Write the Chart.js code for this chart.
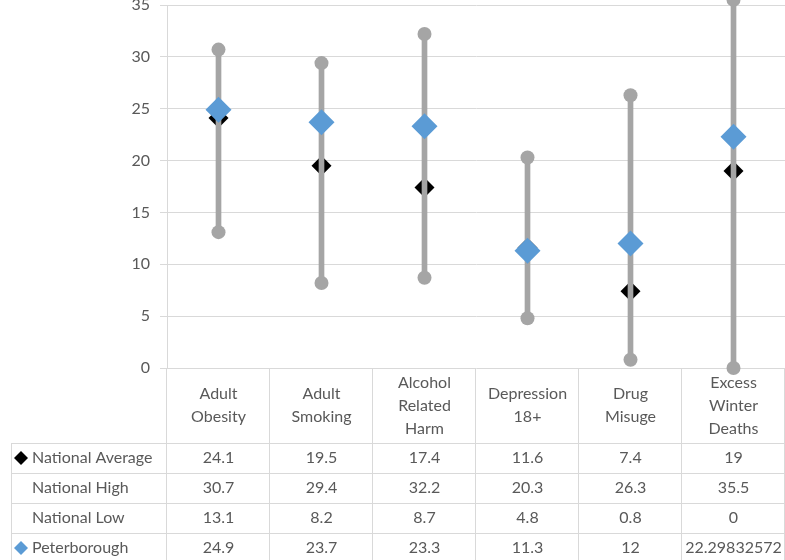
<!DOCTYPE html>
<html>
<head>
<meta charset="utf-8">
<script src="https://cdn.jsdelivr.net/npm/chart.js@4"></script>
<style>
html, body { margin: 0; padding: 0; background: #fff; }
</style>
</head>
<body>
<canvas id="HealthChart" width="785" height="560"></canvas>
<script>
var categories = [["Adult", "Obesity"], ["Adult", "Smoking"], ["Alcohol", "Related", "Harm"], ["Depression", "18+"], ["Drug", "Misuge"], ["Excess", "Winter", "Deaths"]];
var nationalAverage = [24.1, 19.5, 17.4, 11.6, 7.4, 19];
var nationalHigh = [30.7, 29.4, 32.2, 20.3, 26.3, 35.5];
var nationalLow = [13.1, 8.2, 8.7, 4.8, 0.8, 0];
var peterborough = [24.9, 23.7, 23.3, 11.3, 12, 22.29832572];
var yMin = 0, yMax = 35, yStep = 5;

var GREY = '#a5a5a5';
var BLUE = '#5b9bd5';
var TEXT = '#595959';
var GRID = '#d9d9d9';
var FONT = "Lato, 'Open Sans', sans-serif";

var tableRows = [
    { name: "National Average", values: nationalAverage, marker: '#000000' },
    { name: "National High", values: nationalHigh, marker: null },
    { name: "National Low", values: nationalLow, marker: null },
    { name: "Peterborough", values: peterborough, marker: BLUE }
];

window.onload = function () {
    var ctx = document.getElementById("HealthChart").getContext('2d');
    this.HealthChart = createChart(ctx);
};

function rangeData() {
    return nationalLow.map(function (low, i) { return [low, nationalHigh[i]]; });
}

function drawDiamond(ctx, x, y, r, color) {
    ctx.beginPath();
    ctx.moveTo(x - r, y);
    ctx.lineTo(x, y - r);
    ctx.lineTo(x + r, y);
    ctx.lineTo(x, y + r);
    ctx.closePath();
    ctx.fillStyle = color;
    ctx.fill();
}

// data table under the plot, columns follow the x scale
var tablePlugin = {
    id: 'dataTable',
    afterDraw: function (chart) {
        var ctx = chart.ctx;
        var xs = chart.scales.x;
        var area = chart.chartArea;
        var colW = xs.width / categories.length;
        var headH = 75, rowH = 30, tableLeft = 11;
        var top = area.bottom;
        var bottom = chart.height;
        ctx.save();
        ctx.strokeStyle = GRID;
        ctx.lineWidth = 1;
        ctx.beginPath();
        for (var i = 0; i <= categories.length; i++) {
            var px = Math.round(xs.left + i * colW) - 0.5;
            ctx.moveTo(px, top);
            ctx.lineTo(px, bottom);
        }
        ctx.moveTo(tableLeft + 0.5, top + headH);
        ctx.lineTo(tableLeft + 0.5, bottom);
        for (var r = 0; r <= tableRows.length; r++) {
            var py = Math.round(top + headH + r * rowH) + 0.5;
            ctx.moveTo(tableLeft, py);
            ctx.lineTo(xs.right, py);
        }
        ctx.stroke();

        ctx.fillStyle = TEXT;
        ctx.font = "16px " + FONT;
        ctx.textAlign = 'center';
        ctx.textBaseline = 'middle';
        categories.forEach(function (lines, i) {
            var cx = xs.getPixelForValue(i);
            var lh = 23;
            var y0 = top + headH / 2 - (lines.length - 1) * lh / 2;
            lines.forEach(function (t, j) {
                ctx.fillText(t, cx, y0 + j * lh);
            });
        });

        tableRows.forEach(function (row, r) {
            var cy = top + headH + r * rowH + rowH / 2;
            row.values.forEach(function (v, i) {
                ctx.fillStyle = TEXT;
                ctx.textAlign = 'center';
                ctx.fillText(String(v), xs.getPixelForValue(i), cy);
            });
            if (row.marker) drawDiamond(ctx, 21, cy, 7, row.marker);
            ctx.fillStyle = TEXT;
            ctx.textAlign = 'left';
            ctx.fillText(row.name, 32, cy);
        });
        ctx.restore();
    }
};

function createChart(canvasObj) {
    return new Chart(canvasObj, {
        data: {
            labels: categories.map(function (c) { return c.join(' '); }),
            datasets: [
                {
                    type: 'line',
                    label: 'Peterborough',
                    data: peterborough,
                    showLine: false,
                    pointStyle: 'rectRot',
                    pointRadius: 13,
                    pointBorderWidth: 0,
                    pointBackgroundColor: BLUE,
                    pointBorderColor: BLUE,
                    clip: false,
                    order: 0
                },
                {
                    type: 'line',
                    label: 'National High',
                    data: nationalHigh,
                    showLine: false,
                    pointStyle: 'circle',
                    pointRadius: 7,
                    pointBorderWidth: 0,
                    pointBackgroundColor: GREY,
                    clip: false,
                    order: 1
                },
                {
                    type: 'line',
                    label: 'National Low',
                    data: nationalLow,
                    showLine: false,
                    pointStyle: 'circle',
                    pointRadius: 7,
                    pointBorderWidth: 0,
                    pointBackgroundColor: GREY,
                    clip: false,
                    order: 1
                },
                {
                    type: 'bar',
                    label: 'Range',
                    data: rangeData(),
                    backgroundColor: GREY,
                    barThickness: 5,
                    borderSkipped: false,
                    clip: false,
                    order: 2
                },
                {
                    type: 'line',
                    label: 'National Average',
                    data: nationalAverage,
                    showLine: false,
                    pointStyle: 'rectRot',
                    pointRadius: 10,
                    pointBorderWidth: 0,
                    pointBackgroundColor: '#000000',
                    clip: false,
                    order: 3
                }
            ]
        },
        options: {
            responsive: false,
            animation: false,
            devicePixelRatio: 1,
            layout: { autoPadding: false, padding: { top: 5, right: 0, bottom: 192, left: 0 } },
            plugins: {
                legend: { display: false },
                tooltip: { enabled: false }
            },
            scales: {
                x: {
                    type: 'category',
                    display: false
                },
                y: {
                    min: yMin,
                    max: yMax,
                    ticks: {
                        stepSize: yStep,
                        color: TEXT,
                        padding: 10,
                        font: { size: 16, family: FONT }
                    },
                    grid: { color: GRID, tickLength: 7, lineWidth: 1 },
                    border: { color: GRID },
                    afterFit: function (scale) {
                        scale.width = 167;
                        scale.paddingTop = 0;
                        scale.paddingBottom = 0;
                    }
                }
            }
        },
        plugins: [tablePlugin]
    });
}
</script>
</body>
</html>
